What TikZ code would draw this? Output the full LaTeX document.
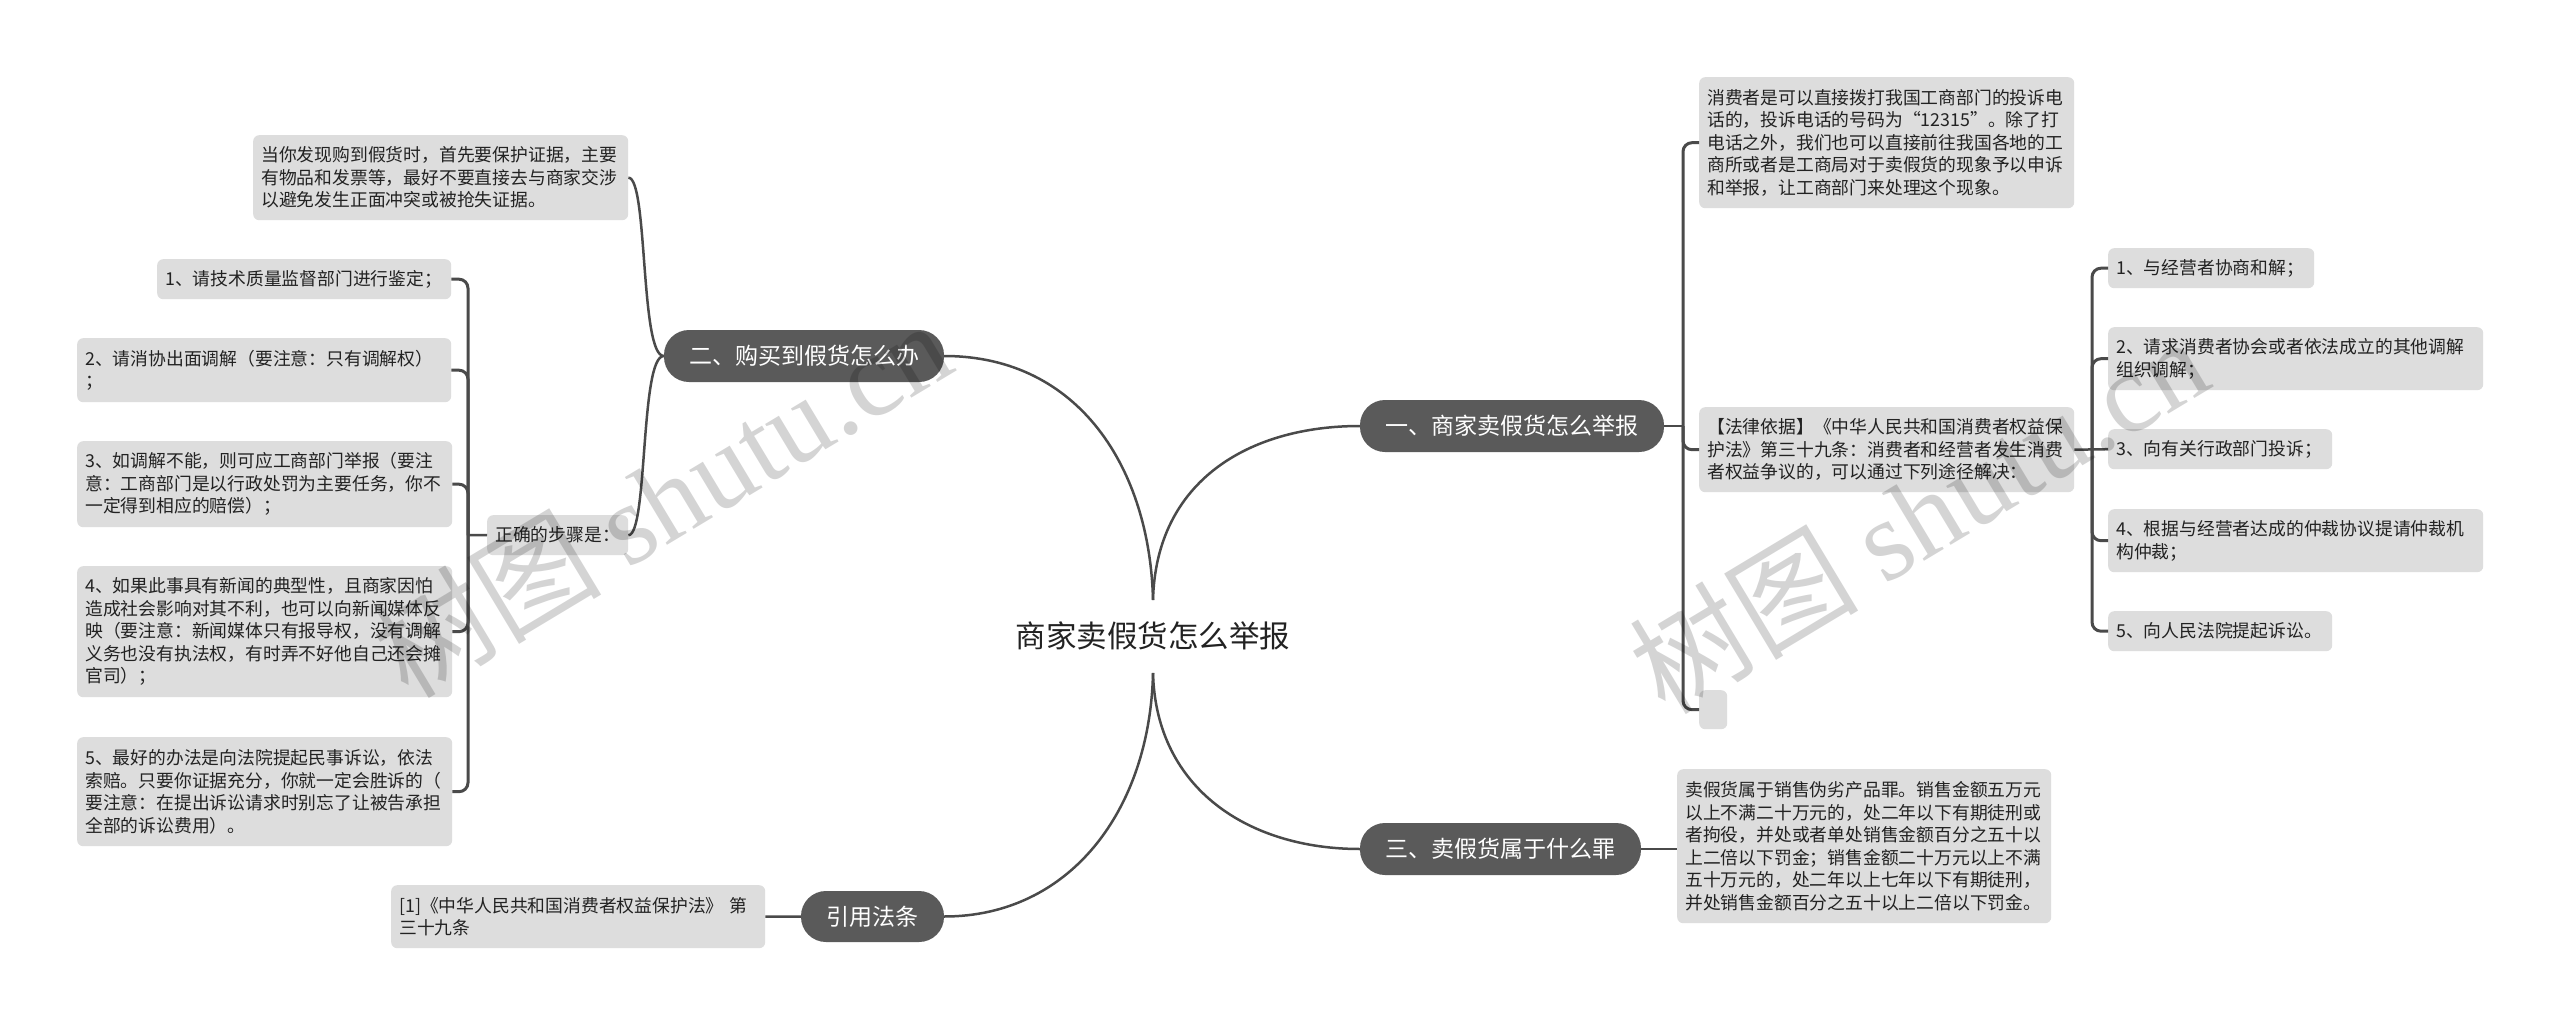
\documentclass[tikz,border=0pt]{standalone}
\usepackage{fontspec}
\setmainfont{Noto Sans CJK SC}
\newfontfamily\wmfont{Liberation Serif}
\definecolor{boxgray}{HTML}{DDDDDD}
\definecolor{maingray}{HTML}{5A5A5A}
\definecolor{linegray}{HTML}{4A4A4A}
\definecolor{txt}{HTML}{222222}
\tikzset{
  leaf/.style={fill=boxgray, rounded corners=6pt, inner xsep=8pt, inner ysep=2pt,
    align=left, font=\fontsize{17.8}{22.5}\selectfont, text=txt, anchor=north west},
  topic/.style={fill=maingray, rounded corners=25pt, text=white,
    font=\fontsize{23}{28}\selectfont, inner sep=0pt, anchor=center},
  link/.style={draw=linegray, line width=2.5pt},
  brk/.style={draw=linegray, line width=3pt, rounded corners=9pt},
  wmark/.style={rotate=31, text=black, text opacity=0.17, inner sep=0pt,
    font=\fontsize{115}{120}\selectfont},
}
\begin{document}
\begin{tikzpicture}[x=1pt,y=-1pt]
\fill[white] (0,0) rectangle (2560,1025);
\useasboundingbox (0,0) rectangle (2560,1025);

% root
\node[font=\fontsize{30.5}{36}\selectfont, text=txt, inner sep=0pt] (root) at (1153,636) {商家卖假货怎么举报};
\coordinate (rtop) at (1153,600);
\coordinate (rbot) at (1153,673);

% main topics
\node[topic, minimum width=280pt, minimum height=52pt] (n2) at (804,356) {二、购买到假货怎么办};
\node[topic, minimum width=304pt, minimum height=52pt] (n1) at (1512,426) {一、商家卖假货怎么举报};
\node[topic, minimum width=281pt, minimum height=52pt] (n3) at (1500.5,849) {三、卖假货属于什么罪};
\node[topic, minimum width=143pt, minimum height=51pt] (n4) at (872.5,916.5) {引用法条};

% right side leaves
\node[leaf, text width=359pt, minimum height=131pt] (r1) at (1699,77) {消费者是可以直接拨打我国工商部门的投诉电\\话的，投诉电话的号码为“12315”。除了打\\电话之外，我们也可以直接前往我国各地的工\\商所或者是工商局对于卖假货的现象予以申诉\\和举报，让工商部门来处理这个现象。};
\node[leaf, text width=359pt, minimum height=85pt] (r2) at (1699,407) {【法律依据】《中华人民共和国消费者权益保\\护法》第三十九条：消费者和经营者发生消费\\者权益争议的，可以通过下列途径解决：};
\node[leaf, text width=12pt, minimum height=39pt] (r3) at (1699,690) {};

\node[leaf, text width=190pt, minimum height=40pt] (rc1) at (2108,248) {1、与经营者协商和解；};
\node[leaf, text width=359pt, minimum height=63pt] (rc2) at (2108,327) {2、请求消费者协会或者依法成立的其他调解\\组织调解；};
\node[leaf, text width=208pt, minimum height=40pt] (rc3) at (2108,429) {3、向有关行政部门投诉；};
\node[leaf, text width=359pt, minimum height=63pt] (rc4) at (2108,509) {4、根据与经营者达成的仲裁协议提请仲裁机\\构仲裁；};
\node[leaf, text width=208pt, minimum height=40pt] (rc5) at (2108,611) {5、向人民法院提起诉讼。};

\node[leaf, text width=358pt, minimum height=154pt] (r4) at (1677,769) {卖假货属于销售伪劣产品罪。销售金额五万元\\以上不满二十万元的，处二年以下有期徒刑或\\者拘役，并处或者单处销售金额百分之五十以\\上二倍以下罚金；销售金额二十万元以上不满\\五十万元的，处二年以上七年以下有期徒刑，\\并处销售金额百分之五十以上二倍以下罚金。};

% left side leaves
\node[leaf, text width=359pt, minimum height=85pt] (l1) at (253,135) {当你发现购到假货时，首先要保护证据，主要\\有物品和发票等，最好不要直接去与商家交涉\\以避免发生正面冲突或被抢失证据。};
\node[leaf, text width=125pt, minimum height=40pt] (l2) at (487,515) {正确的步骤是：};

\node[leaf, text width=278pt, minimum height=40pt] (lc1) at (157,259) {1、请技术质量监督部门进行鉴定；};
\node[leaf, text width=358pt, minimum height=64pt] (lc2) at (77,338) {2、请消协出面调解（要注意：只有调解权）\\；};
\node[leaf, text width=359pt, minimum height=86pt] (lc3) at (77,441) {3、如调解不能，则可应工商部门举报（要注\\意：工商部门是以行政处罚为主要任务，你不\\一定得到相应的赔偿）；};
\node[leaf, text width=359pt, minimum height=131pt] (lc4) at (77,566) {4、如果此事具有新闻的典型性，且商家因怕\\造成社会影响对其不利，也可以向新闻媒体反\\映（要注意：新闻媒体只有报导权，没有调解\\义务也没有执法权，有时弄不好他自己还会摊\\官司）；};
\node[leaf, text width=359pt, minimum height=109pt] (lc5) at (77,737) {5、最好的办法是向法院提起民事诉讼，依法\\索赔。只要你证据充分，你就一定会胜诉的（\\要注意：在提出诉讼请求时别忘了让被告承担\\全部的诉讼费用）。};

\node[leaf, text width=358pt, minimum height=63pt] (cite) at (391,885) {[1]《中华人民共和国消费者权益保护法》 第\\三十九条};

% main curves
\draw[link] (rtop) .. controls (1150,470) and (1080,356) .. (n2.east);
\draw[link] (rtop) .. controls (1156,480) and (1250,426) .. (n1.west);
\draw[link] (rbot) .. controls (1156,790) and (1250,849) .. (n3.west);
\draw[link] (rbot) .. controls (1150,810) and (1070,916.5) .. (n4.east);

% left curves from n2
\draw[link] (n2.west) .. controls (640,356) and (648,177.5) .. (l1.east);
\draw[link] (n2.west) .. controls (640,356) and (648,535) .. (l2.east);

% left bracket
\coordinate (lsp) at (468,535);
\draw[link] (l2.west) -- (lsp);
\draw[brk] (lsp) |- (lc1.east);
\draw[brk] (lsp) |- (lc2.east);
\draw[brk] (lsp) |- (lc3.east);
\draw[brk] (lsp) |- (lc4.east);
\draw[brk] (lsp) |- (lc5.east);

% right bracket for n1
\coordinate (rsp) at (1683,426);
\draw[link] (n1.east) -- (rsp);
\draw[brk] (rsp) |- (r1.west);
\draw[brk] (rsp) |- (r2.west);
\draw[brk] (rsp) |- (r3.west);

% bracket for r2 children
\coordinate (csp) at (2092,449.5);
\draw[link] (r2.east) -- (rc3.west);
\draw[brk] (csp) |- (rc1.west);
\draw[brk] (csp) |- (rc2.west);
\draw[brk] (csp) |- (rc4.west);
\draw[brk] (csp) |- (rc5.west);

% n3 and n4 leaves
\draw[link] (n3.east) -- (r4.west |- n3.east);
\draw[link] (cite.east) -- (n4.west);

% watermarks
\node[wmark] (wm1) at (661,498) {树图 {\wmfont shutu.cn}};
\node[wmark] (wm2) at (1918,514) {树图 {\wmfont shutu.cn}};
\end{tikzpicture}
\end{document}
